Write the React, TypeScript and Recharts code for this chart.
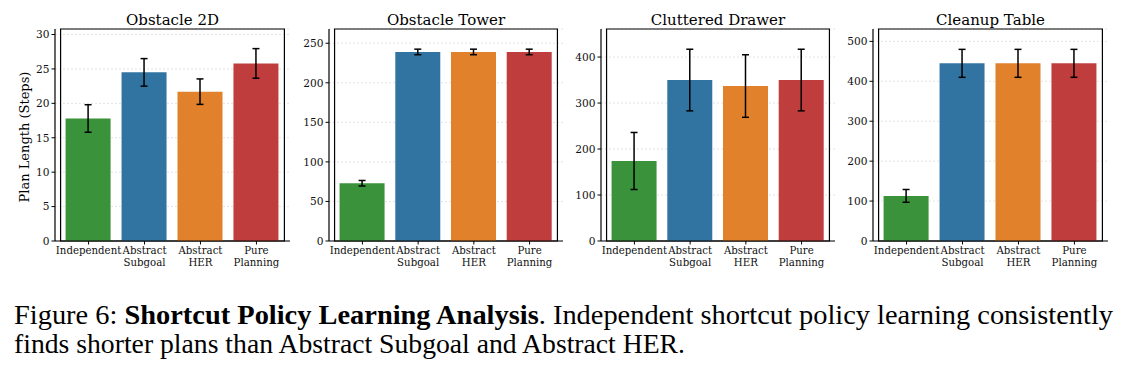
import { Bar, BarChart, CartesianGrid, Cell, ErrorBar, ReferenceArea, XAxis, YAxis } from "recharts";

const categories = ["Independent", "Abstract Subgoal", "Abstract HER", "Pure Planning"];
const palette = ["#3a923a", "#3274a1", "#e1812c", "#c03d3e"];

const titles = ["Obstacle 2D", "Obstacle Tower", "Cluttered Drawer", "Cleanup Table"];

const obstacle2dMean = [17.8, 24.5, 21.7, 25.8];
const obstacle2dErr = [2.0, 2.0, 1.85, 2.15];
const towerMean = [73, 239, 239, 239];
const towerErr = [3.5, 3.5, 3.5, 3.5];
const drawerMean = [174, 350, 337, 350];
const drawerErr = [62, 67, 68, 67];
const cleanupMean = [113, 445, 445, 445];
const cleanupErr = [16, 35, 35, 35];

const obstacle2dTicks = [0, 5, 10, 15, 20, 25, 30];
const towerTicks = [0, 50, 100, 150, 200, 250];
const drawerTicks = [0, 100, 200, 300, 400];
const cleanupTicks = [0, 100, 200, 300, 400, 500];

const yMax = [30.8, 268, 461, 531];

const FONT = "'DejaVu Serif', serif";
const CAPTION_FONT = "'Liberation Serif', 'Times New Roman', serif";
const PLOT_TOP = 29;
const PLOT_BOTTOM = 241;
const AXIS_W = 50;
const TICK_FS = 10.6;

const panels = [
  { left: 55, width: 235, mean: obstacle2dMean, err: obstacle2dErr, ticks: obstacle2dTicks },
  { left: 329, width: 234, mean: towerMean, err: towerErr, ticks: towerTicks },
  { left: 601, width: 234, mean: drawerMean, err: drawerErr, ticks: drawerTicks },
  { left: 873, width: 235, mean: cleanupMean, err: cleanupErr, ticks: cleanupTicks },
];

function CategoryTick(props: any) {
  const { x, y, payload } = props;
  const words = String(payload.value).split(" ");
  return (
    <text x={x} y={y} textAnchor="middle" fontSize={10.2} fontFamily={FONT} fill="#111">
      {words.map((w: string, i: number) => (
        <tspan key={i} x={x} dy={i === 0 ? 8.8 : 11.6}>
          {w}
        </tspan>
      ))}
    </text>
  );
}

function Panel({ idx }: { idx: number }) {
  const p = panels[idx];
  const data = categories.map((c, i) => ({ name: c, value: p.mean[i], err: p.err[i] }));
  const band = p.width / 4.2;
  const chartW = p.width + AXIS_W + 2;
  const chartH = 280;
  return (
    <div style={{ position: "absolute", left: p.left - AXIS_W, top: 0 }}>
      <BarChart
        width={chartW}
        height={chartH}
        data={data}
        margin={{ top: PLOT_TOP, right: 2, bottom: chartH - PLOT_BOTTOM - 30, left: 0 }}
        barCategoryGap={0}
      >
        <CartesianGrid vertical={false} stroke="#dcdcdc" strokeDasharray="2 2" strokeWidth={0.8} />
        <XAxis
          dataKey="name"
          height={30}
          interval={0}
          padding={{ left: band * 0.1, right: band * 0.1 }}
          tick={<CategoryTick />}
          tickSize={3.5}
          tickMargin={1}
          axisLine={{ stroke: "#000", strokeWidth: 1.2 }}
          tickLine={{ stroke: "#000" }}
        />
        <YAxis
          width={AXIS_W}
          type="number"
          domain={[0, yMax[idx]]}
          ticks={p.ticks}
          allowDataOverflow
          tickSize={3.5}
          tickMargin={2}
          tick={{ fontSize: TICK_FS, fontFamily: FONT, fill: "#111" }}
          axisLine={{ stroke: "#000", strokeWidth: 1.2 }}
          tickLine={{ stroke: "#000" }}
        />
        <Bar dataKey="value" barSize={Math.round(band * 0.8)} isAnimationActive={false}>
          {data.map((_, i) => (
            <Cell key={i} fill={palette[i]} />
          ))}
          <ErrorBar dataKey="err" width={3.5} stroke="#000" strokeWidth={1.5} direction="y" />
        </Bar>
        <ReferenceArea
          y1={0}
          y2={yMax[idx]}
          fill="none"
          fillOpacity={0}
          stroke="#000"
          strokeWidth={1.2}
          ifOverflow="visible"
        />
      </BarChart>
    </div>
  );
}

export default function App() {
  return (
    <div
      style={{
        position: "absolute",
        left: 0,
        top: 0,
        width: 1129,
        height: 368,
        background: "#fff",
        overflow: "hidden",
      }}
    >
      {panels.map((_, i) => (
        <Panel key={i} idx={i} />
      ))}
      <svg
        width={1129}
        height={368}
        style={{ position: "absolute", left: 0, top: 0, pointerEvents: "none" }}
      >
        {panels.map((p, i) => (
          <text
            key={i}
            x={p.left + p.width / 2}
            y={25}
            textAnchor="middle"
            fontFamily={FONT}
            fontSize={15}
            fill="#000"
          >
            {titles[i]}
          </text>
        ))}
        <text
          x={0}
          y={0}
          transform="translate(29 137) rotate(-90)"
          textAnchor="middle"
          fontFamily={FONT}
          fontSize={13}
          fill="#000"
        >
          Plan Length (Steps)
        </text>
        <text
          x={14}
          y={324}
          fontFamily={CAPTION_FONT}
          fontSize={28}
          fill="#000"
          textLength={1099}
          lengthAdjust="spacingAndGlyphs"
        >
          Figure 6: <tspan fontWeight="bold">Shortcut Policy Learning Analysis</tspan>. Independent
          shortcut policy learning consistently
        </text>
        <text
          x={14}
          y={353}
          fontFamily={CAPTION_FONT}
          fontSize={28}
          fill="#000"
          textLength={671}
          lengthAdjust="spacingAndGlyphs"
        >
          finds shorter plans than Abstract Subgoal and Abstract HER.
        </text>
      </svg>
    </div>
  );
}
